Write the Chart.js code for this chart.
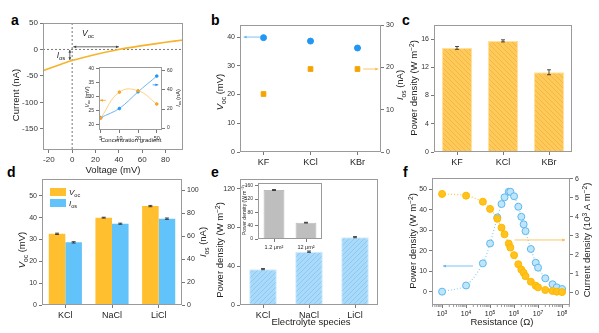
<!DOCTYPE html>
<html lang="en">
<head>
  <meta charset="UTF-8" />
  <title>Figure</title>
  <script src="https://cdn.jsdelivr.net/npm/chart.js"></script>
  <style>
    body { margin: 0; width: 599px; height: 333px; position: relative; overflow: hidden; background: #fff; font-family: "Liberation Sans", Arial, sans-serif; }
    canvas { position: absolute; }
    .tag { position: absolute; font-size: 14px; font-weight: bold; line-height: 1; color: #000; }
  </style>
</head>
<body>
  <div class="tag" style="left:11px; top:13px">a</div>
  <div class="tag" style="left:211px; top:13px">b</div>
  <div class="tag" style="left:402px; top:13px">c</div>
  <div class="tag" style="left:7px; top:165px">d</div>
  <div class="tag" style="left:211px; top:165px">e</div>
  <div class="tag" style="left:403px; top:165px">f</div>
  <script>
    // ---- data ----
    // a: I-V curve
    const aVoltage = [-25, -10, 0, 20, 40, 60, 80, 95];
    const aCurrent = [-40, -28.5, -21, -9.5, 0, 7.3, 13.5, 18];
    const aXTicks = [-20, 0, 20, 40, 60, 80];
    const aYTicks = [-150, -100, -50, 0, 50];
    // a inset: concentration gradient
    const gradLabels = ["5", "10", "20", "50"];
    const gradVoc = [22.4, 31.6, 32.1, 27.4];
    const gradIos = [11, 20.5, 38, 54.5];
    const gradVocTicks = [20, 25, 30, 35, 40];
    const gradIosTicks = [0, 20, 40, 60];
    // b, c: potassium halides
    const halides = ["KF", "KCl", "KBr"];
    const bVoc = [39.8, 38.6, 36.2];
    const bIos = [13.7, 19.6, 19.6];
    const bVocTicks = [0, 10, 20, 30, 40];
    const bIosTicks = [0, 10, 20, 30];
    const cPower = [14.75, 15.75, 11.3];
    const cPowerErr = [0.2, 0.15, 0.35];
    const cTicks = [0, 4, 8, 12, 16];
    // d, e: chlorides
    const chlorides = ["KCl", "NaCl", "LiCl"];
    const dVoc = [32.6, 40.0, 45.3];
    const dVocErr = [0.3, 0.2, 0.3];
    const dIos = [54.5, 70.7, 75.1];
    const dIosErr = [0.6, 0.5, 0.6];
    const dVocTicks = [0, 10, 20, 30, 40, 50];
    const dIosTicks = [0, 20, 40, 60, 80, 100];
    const ePower = [37, 55, 70];
    const ePowerErr = [0.6, 0.7, 0.6];
    const eTicks = [0, 40, 80, 120];
    // e inset: pore area
    const areaLabels = ["1.2 \u03bcm\u00b2", "12 \u03bcm\u00b2"];
    const areaPower = [147, 49];
    const areaPowerErr = [1.5, 1.2];
    const areaTicks = [0, 40, 80, 120, 160];
    // f: load resistance
    const fResistance = [1e3, 1e4, 5e4, 1e5, 2e5, 3e5, 4e5, 6e5, 7e5, 1e6, 1.5e6, 2e6, 2.5e6, 3e6, 5e6, 8e6, 1e7, 2e7, 4e7, 6e7, 1e8];
    const fPower = [0, 3, 13.8, 23.5, 36.2, 42.7, 46, 48.7, 48.7, 46.5, 41.4, 36.5, 32.8, 29.5, 20.8, 14.1, 11.7, 6.5, 3.6, 2.1, 1.3];
    const fCurrent = [5.21, 5.12, 4.8, 4.42, 3.9, 3.43, 3.08, 2.59, 2.38, 1.98, 1.5, 1.22, 1.05, 0.87, 0.58, 0.37, 0.28, 0.14, 0.09, 0.05, 0.03];
    const fXTicks = [1e3, 1e4, 1e5, 1e6, 1e7, 1e8];
    const fPowerTicks = [0, 10, 20, 30, 40, 50];
    const fCurrentTicks = [0, 1, 2, 3, 4, 5, 6];

    // ---- common settings ----
    const FONT = "'Liberation Sans', Arial, sans-serif";
    Chart.defaults.font.family = FONT;
    Chart.defaults.color = "#333";
    Chart.defaults.animation = false;
    Chart.defaults.plugins.legend.display = false;
    Chart.defaults.plugins.tooltip.enabled = false;
    const FRAME = "#9a9a9a";
    const TICK = "#555";

    // text with italic / sub / sup parts, e.g. [["V","i"],["oc","sub"],[" (mV)"]]
    function richText(ctx, parts, x, y, size, rot, align) {
      ctx.save();
      ctx.translate(x, y);
      if (rot) ctx.rotate(rot);
      ctx.textBaseline = "alphabetic";
      ctx.fillStyle = "#222";
      const runs = parts.map(p => {
        const small = p[1] === "sub" || p[1] === "sup";
        const font = (p[1] === "i" ? "italic " : "") + (small ? size * 0.7 : size) + "px " + FONT;
        ctx.font = font;
        return { t: p[0], font: font, w: ctx.measureText(p[0]).width, dy: p[1] === "sub" ? size * 0.28 : p[1] === "sup" ? -size * 0.4 : 0 };
      });
      const total = runs.reduce((s, r) => s + r.w, 0);
      let cx = align === "left" ? 0 : align === "right" ? -total : -total / 2;
      for (const r of runs) {
        ctx.font = r.font;
        ctx.fillText(r.t, cx, size * 0.35 + r.dy);
        cx += r.w;
      }
      ctx.restore();
    }
    const UP = -Math.PI / 2;

    function arrow(ctx, x1, y1, x2, y2, color, both) {
      ctx.save();
      ctx.strokeStyle = color;
      ctx.fillStyle = color;
      ctx.lineWidth = 0.8;
      ctx.beginPath();
      ctx.moveTo(x1, y1);
      ctx.lineTo(x2, y2);
      ctx.stroke();
      const head = (hx, hy, ang) => {
        ctx.beginPath();
        ctx.moveTo(hx, hy);
        ctx.lineTo(hx - 3.2 * Math.cos(ang - 0.45), hy - 3.2 * Math.sin(ang - 0.45));
        ctx.lineTo(hx - 3.2 * Math.cos(ang + 0.45), hy - 3.2 * Math.sin(ang + 0.45));
        ctx.closePath();
        ctx.fill();
      };
      const a = Math.atan2(y2 - y1, x2 - x1);
      head(x2, y2, a);
      if (both) head(x1, y1, a + Math.PI);
      ctx.restore();
    }

    function hatch(bg, fg, dir) {
      const c = document.createElement("canvas");
      c.width = 5;
      c.height = 5;
      const g = c.getContext("2d");
      g.fillStyle = bg;
      g.fillRect(0, 0, 5, 5);
      g.strokeStyle = fg;
      g.lineWidth = 0.9;
      g.beginPath();
      if (dir > 0) {
        g.moveTo(0, 5); g.lineTo(5, 0);
        g.moveTo(-1, 1); g.lineTo(1, -1);
        g.moveTo(4, 6); g.lineTo(6, 4);
      } else {
        g.moveTo(0, 0); g.lineTo(5, 5);
        g.moveTo(-1, 4); g.lineTo(1, 6);
        g.moveTo(4, -1); g.lineTo(6, 1);
      }
      g.stroke();
      return g.createPattern(c, "repeat");
    }

    function lin(pos, min, max, ticks, size, fmt) {
      return {
        type: "linear", position: pos, min: min, max: max,
        afterBuildTicks: s => { s.ticks = ticks.map(v => ({ value: v })); },
        ticks: { font: { size: size }, padding: 2, color: "#333", autoSkip: false, maxRotation: 0, callback: fmt || (v => v) },
        grid: { drawOnChartArea: false, tickLength: 3, color: TICK, lineWidth: 0.8 },
        border: { display: false }
      };
    }

    function cat(size) {
      return {
        type: "category", position: "bottom", offset: true,
        ticks: { font: { size: size }, padding: 2, color: "#222", maxRotation: 0, autoSkip: false },
        grid: { drawOnChartArea: false, offset: false, tickLength: 3, color: TICK, lineWidth: 0.8 },
        border: { display: false }
      };
    }

    const framePlugin = {
      id: "frame",
      beforeDraw(chart, args, opts) {
        if (!opts.fill) return;
        const a = chart.chartArea;
        chart.ctx.save();
        chart.ctx.fillStyle = opts.fill;
        chart.ctx.fillRect(a.left, a.top, a.width, a.height);
        chart.ctx.restore();
      },
      afterDatasetsDraw(chart) {
        const a = chart.chartArea;
        const ctx = chart.ctx;
        ctx.save();
        ctx.strokeStyle = FRAME;
        ctx.lineWidth = 1;
        ctx.strokeRect(Math.round(a.left) + 0.5, Math.round(a.top) + 0.5, Math.round(a.width) - 1, Math.round(a.height) - 1);
        ctx.restore();
      }
    };

    const errorPlugin = {
      id: "errbars",
      afterDatasetsDraw(chart) {
        const ctx = chart.ctx;
        chart.data.datasets.forEach((ds, i) => {
          if (!ds.errors) return;
          const meta = chart.getDatasetMeta(i);
          const ys = chart.scales[meta.yAxisID];
          meta.data.forEach((el, j) => {
            const v = ds.data[j];
            const e = ds.errors[j];
            const y1 = ys.getPixelForValue(v - e);
            const y2 = ys.getPixelForValue(v + e);
            ctx.save();
            ctx.strokeStyle = "#222";
            ctx.lineWidth = 0.8;
            ctx.beginPath();
            ctx.moveTo(el.x, y1); ctx.lineTo(el.x, y2);
            ctx.moveTo(el.x - 2, y1); ctx.lineTo(el.x + 2, y1);
            ctx.moveTo(el.x - 2, y2); ctx.lineTo(el.x + 2, y2);
            ctx.stroke();
            ctx.restore();
          });
        });
      }
    };

    // box: canvas [x, y, w, h] on the page, plot: [left, top, right, bottom] on the page
    function makeChart(id, box, plot, config, extras) {
      const cv = document.createElement("canvas");
      cv.id = id;
      cv.width = box[2];
      cv.height = box[3];
      cv.style.left = box[0] + "px";
      cv.style.top = box[1] + "px";
      cv.style.width = box[2] + "px";
      cv.style.height = box[3] + "px";
      document.body.appendChild(cv);
      const o = config.options;
      o.responsive = false;
      o.maintainAspectRatio = false;
      let hasRight = false;
      for (const k in o.scales) {
        const s = o.scales[k];
        if (s.position === "left") s.afterFit = sc => { sc.width = plot[0] - box[0]; };
        else if (s.position === "right") { hasRight = true; s.afterFit = sc => { sc.width = box[0] + box[2] - plot[2]; }; }
        else s.afterFit = sc => { sc.height = box[1] + box[3] - plot[3]; };
      }
      o.layout = { padding: { top: plot[1] - box[1], left: 0, bottom: 0, right: hasRight ? 0 : box[0] + box[2] - plot[2] } };
      config.plugins = [framePlugin, errorPlugin].concat(extras || []);
      return new Chart(cv, config);
    }

    const VOC = [["V", "i"], ["oc", "sub"], [" (mV)"]];
    const IOS = [["I", "i"], ["os", "sub"], [" (nA)"]];
    const PD = [["Power density (W m"], ["\u22122", "sup"], [")"]];

    // ---- a ----
    makeChart("chA", [0, 15, 200, 160], [43, 23, 183, 150], {
      type: "line",
      data: {
        datasets: [{
          data: aVoltage.map((v, i) => ({ x: v, y: aCurrent[i] })),
          borderColor: "#F6B32B", borderWidth: 1.6, pointRadius: 0, tension: 0.4
        }]
      },
      options: { scales: { x: lin("bottom", -25, 95, aXTicks, 8), y: lin("left", -190, 50, aYTicks, 8) } }
    }, [{
      id: "aNotes",
      beforeDatasetsDraw(chart) {
        const ctx = chart.ctx, x = chart.scales.x, y = chart.scales.y, a = chart.chartArea;
        ctx.save();
        ctx.strokeStyle = "#555";
        ctx.lineWidth = 0.8;
        ctx.setLineDash([2, 2]);
        ctx.beginPath();
        ctx.moveTo(x.getPixelForValue(0), a.top);
        ctx.lineTo(x.getPixelForValue(0), a.bottom);
        ctx.moveTo(a.left, y.getPixelForValue(0));
        ctx.lineTo(a.right, y.getPixelForValue(0));
        ctx.stroke();
        ctx.restore();
      },
      afterDraw(chart) {
        const ctx = chart.ctx, x = chart.scales.x, y = chart.scales.y;
        arrow(ctx, x.getPixelForValue(1), y.getPixelForValue(5), x.getPixelForValue(40), y.getPixelForValue(5), "#444", true);
        arrow(ctx, x.getPixelForValue(-2), y.getPixelForValue(-1), x.getPixelForValue(-2), y.getPixelForValue(-20), "#444", true);
        richText(ctx, [["V", "i"], ["oc", "sub"]], 88, 18, 8.5);
        richText(ctx, [["I", "i"], ["os", "sub"]], 61, 40, 8.5);
        richText(ctx, [["Current (nA)"]], 16, 80, 9.5, UP);
        richText(ctx, [["Voltage (mV)"]], 113, 155, 9.5);
      }
    }]);

    // ---- a inset ----
    makeChart("chA2", [80, 60, 102, 84], [99, 67, 162, 130], {
      type: "line",
      data: {
        datasets: [
          { data: gradVoc.map((v, i) => ({ x: i, y: v })), yAxisID: "y", borderColor: "#FFD27F", borderWidth: 1, pointRadius: 1.3, pointBackgroundColor: "#F5A623", pointBorderColor: "#F5A623", tension: 0.45 },
          { data: gradIos.map((v, i) => ({ x: i, y: v })), yAxisID: "y2", borderColor: "#6BB8F2", borderWidth: 1, pointRadius: 1.3, pointBackgroundColor: "#2196F3", pointBorderColor: "#2196F3", tension: 0.3 }
        ]
      },
      options: {
        plugins: { frame: { fill: "#fff" } },
        scales: {
          x: lin("bottom", -0.09, 3.28, [0, 1, 2, 3], 5.5, v => gradLabels[v]),
          y: lin("left", 18.2, 40.5, gradVocTicks, 5),
          y2: lin("right", -2, 64, gradIosTicks, 5)
        }
      }
    }, [{
      id: "a2Notes",
      afterDraw(chart) {
        const ctx = chart.ctx, x = chart.scales.x, y = chart.scales.y, y2 = chart.scales.y2;
        arrow(ctx, x.getPixelForValue(0.27), y.getPixelForValue(28.7), x.getPixelForValue(-0.04), y.getPixelForValue(28.7), "#F5A623");
        arrow(ctx, x.getPixelForValue(2.78), y2.getPixelForValue(45.3), x.getPixelForValue(3.08), y2.getPixelForValue(45.3), "#2196F3");
        richText(ctx, VOC, 7, 37, 5.5, UP);
        richText(ctx, IOS, 98, 38, 5.5, UP);
        richText(ctx, [["Concentration gradient"]], 51, 80, 6);
      }
    }]);

    // ---- b ----
    makeChart("chB", [200, 15, 210, 160], [240, 25, 381, 152], {
      type: "line",
      data: {
        labels: halides,
        datasets: [
          { data: bVoc, yAxisID: "y", showLine: false, pointStyle: "circle", pointRadius: 3, pointBackgroundColor: "#2196F3", pointBorderColor: "#2196F3" },
          { data: bIos, yAxisID: "y2", showLine: false, pointStyle: "rect", pointRadius: 3.3, pointBackgroundColor: "#F5A300", pointBorderColor: "#F5A300" }
        ]
      },
      options: { scales: { x: cat(9), y: lin("left", 0, 44.2, bVocTicks, 7), y2: lin("right", 0, 30, bIosTicks, 7) } }
    }, [{
      id: "bNotes",
      afterDraw(chart) {
        const ctx = chart.ctx, x = chart.scales.x, y = chart.scales.y, y2 = chart.scales.y2;
        arrow(ctx, x.getPixelForValue(-0.05), y.getPixelForValue(40), x.getPixelForValue(-0.42), y.getPixelForValue(40), "#5AB4F5");
        arrow(ctx, x.getPixelForValue(2.12), y2.getPixelForValue(19.6), x.getPixelForValue(2.44), y2.getPixelForValue(19.6), "#F7B944");
        richText(ctx, VOC, 20, 77, 9.5, UP);
        richText(ctx, IOS, 200, 70, 9.5, UP);
      }
    }]);

    // ---- c ----
    makeChart("chC", [405, 15, 194, 160], [434, 25, 572, 152], {
      type: "bar",
      data: {
        labels: halides,
        datasets: [{ data: cPower, errors: cPowerErr, backgroundColor: hatch("#FFCA5C", "#F6B43C", -1), borderColor: "#FFE2A3", borderWidth: 1, barPercentage: 0.66, categoryPercentage: 1 }]
      },
      options: { scales: { x: cat(9), y: lin("left", 0, 18, cTicks, 7) } }
    }, [{
      id: "cNotes",
      afterDraw(chart) {
        richText(chart.ctx, PD, 9, 73, 9.5, UP);
      }
    }]);

    // ---- d ----
    makeChart("chD", [0, 168, 210, 165], [42, 179, 182, 305], {
      type: "bar",
      data: {
        labels: chlorides,
        datasets: [
          { data: dVoc, errors: dVocErr, yAxisID: "y", backgroundColor: "#FFBF2E", categoryPercentage: 0.71, barPercentage: 1 },
          { data: dIos, errors: dIosErr, yAxisID: "y2", backgroundColor: "#62C2FA", categoryPercentage: 0.71, barPercentage: 1 }
        ]
      },
      options: { scales: { x: cat(9), y: lin("left", 0, 57.7, dVocTicks, 7), y2: lin("right", 0, 109.6, dIosTicks, 7) } }
    }, [{
      id: "dNotes",
      afterDraw(chart) {
        const ctx = chart.ctx, a = chart.chartArea;
        ctx.fillStyle = "#FFBF2E";
        ctx.fillRect(a.left + 8, a.top + 9, 16, 8);
        ctx.fillStyle = "#62C2FA";
        ctx.fillRect(a.left + 8, a.top + 20, 16, 8);
        richText(ctx, [["V", "i"], ["oc", "sub"]], a.left + 27, a.top + 13, 8, 0, "left");
        richText(ctx, [["I", "i"], ["os", "sub"]], a.left + 27, a.top + 24, 8, 0, "left");
        richText(ctx, VOC, 22, 82, 9.5, UP);
        richText(ctx, IOS, 203, 74, 9.5, UP);
      }
    }]);

    // ---- e ----
    makeChart("chE", [200, 168, 200, 165], [240, 179, 378, 305], {
      type: "bar",
      data: {
        labels: chlorides,
        datasets: [{ data: ePower, errors: ePowerErr, backgroundColor: hatch("#AADAF9", "#88C6F1", 1), borderColor: "#D2ECFC", borderWidth: 1, barPercentage: 0.6, categoryPercentage: 1 }]
      },
      options: { scales: { x: cat(9), y: lin("left", 0, 130, eTicks, 7) } }
    }, [{
      id: "eNotes",
      afterDraw(chart) {
        richText(chart.ctx, PD, 20, 82, 9.5, UP);
        richText(chart.ctx, [["Electrolyte species"]], 111, 154, 9.5);
      }
    }]);

    // ---- e inset ----
    makeChart("chE2", [236, 178, 90, 76], [258, 182, 322, 239], {
      type: "bar",
      data: {
        labels: areaLabels,
        datasets: [{ data: areaPower, errors: areaPowerErr, backgroundColor: "#BEBEBE", borderColor: "#ABABAB", borderWidth: 0.8, barPercentage: 0.65, categoryPercentage: 1 }]
      },
      options: {
        plugins: { frame: { fill: "#fff" } },
        scales: { x: cat(5.5), y: lin("left", 0, 168, areaTicks, 5) }
      }
    }, [{
      id: "e2Notes",
      afterDraw(chart) {
        richText(chart.ctx, PD, 8, 32, 5, UP);
      }
    }]);

    // ---- f ----
    makeChart("chF", [400, 168, 199, 165], [432, 178, 570, 305], {
      type: "line",
      data: {
        datasets: [
          { data: fResistance.map((r, i) => ({ x: r, y: fCurrent[i] })), yAxisID: "y2", order: 0, borderColor: "#FFC83C", borderDash: [1, 2], borderWidth: 1.2, pointRadius: 3.5, pointBackgroundColor: "#FFC21F", pointBorderColor: "#FFB800", pointBorderWidth: 1, tension: 0.3 },
          { data: fResistance.map((r, i) => ({ x: r, y: fPower[i] })), yAxisID: "y", order: 1, borderColor: "#8FD0F5", borderDash: [1, 2], borderWidth: 1.2, pointRadius: 3.5, pointBackgroundColor: "#BFE5FB", pointBorderColor: "#5DB8EE", pointBorderWidth: 1, tension: 0.3 }
        ]
      },
      options: {
        scales: {
          x: {
            type: "logarithmic", position: "bottom", min: 380, max: 2.14e8,
            afterBuildTicks: s => { s.ticks = fXTicks.map(v => ({ value: v })); },
            ticks: { callback: () => "", font: { size: 7 } },
            grid: { drawOnChartArea: false, tickLength: 3, color: TICK, lineWidth: 0.8 },
            border: { display: false }
          },
          y: lin("left", -6.5, 55.4, fPowerTicks, 7),
          y2: lin("right", -0.65, 6.05, fCurrentTicks, 7)
        }
      }
    }, [{
      id: "fNotes",
      afterDraw(chart) {
        const ctx = chart.ctx, x = chart.scales.x, y = chart.scales.y, y2 = chart.scales.y2, a = chart.chartArea;
        // minor ticks between decades
        ctx.save();
        ctx.strokeStyle = TICK;
        ctx.lineWidth = 0.6;
        ctx.beginPath();
        fXTicks.concat([1e2]).forEach(d => {
          for (let m = 2; m <= 9; m++) {
            const v = d * m;
            if (v < x.min || v > x.max) continue;
            const px = x.getPixelForValue(v);
            ctx.moveTo(px, a.bottom);
            ctx.lineTo(px, a.bottom + 2);
          }
        });
        ctx.stroke();
        ctx.restore();
        fXTicks.forEach(v => {
          richText(ctx, [["10"], [String(Math.round(Math.log10(v))), "sup"]], x.getPixelForValue(v), a.bottom + 9, 7);
        });
        arrow(ctx, x.getPixelForValue(1.95e4), y.getPixelForValue(12.5), x.getPixelForValue(1.1e3), y.getPixelForValue(12.5), "#5AB4F5");
        arrow(ctx, x.getPixelForValue(1.05e6), y2.getPixelForValue(2.78), x.getPixelForValue(1.33e8), y2.getPixelForValue(2.78), "#F7B944");
        richText(ctx, PD, 13, 73, 9.5, UP);
        richText(ctx, [["Current density (10"], ["3", "sup"], [" A m"], ["\u22122", "sup"], [")"]], 187, 72, 9.5, UP);
        richText(ctx, [["Resistance (\u03a9)"]], 102, 154, 9.5);
      }
    }]);
  </script>
</body>
</html>
